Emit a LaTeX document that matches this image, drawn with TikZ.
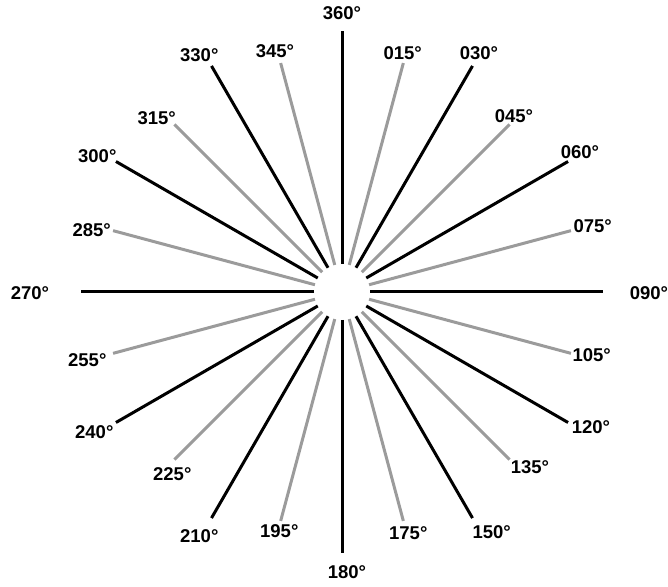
\documentclass[tikz,border=0pt]{standalone}
\usepackage{fontspec}
\setmainfont{Liberation Sans}
\definecolor{raygray}{RGB}{155,155,155}
\tikzset{
  majorray/.style={draw=black,line width=3pt},
  minorray/.style={draw=raygray,line width=3pt},
  deglabel/.style={inner sep=0pt,font=\fontsize{18.5}{21}\selectfont\bfseries,anchor=center}
}
\begin{document}
\begin{tikzpicture}[x=1pt,y=1pt]
\useasboundingbox (0,0) rectangle (668,586);
\coordinate (C) at (342,294);
% black rays every 30 degrees
\foreach \a in {0,30,...,330}{
  \draw[majorray] ([shift={(C)}]{90-\a}:28) -- ([shift={(C)}]{90-\a}:261);
}
% grey rays in between
\foreach \a in {15,45,...,345}{
  \draw[minorray] ([shift={(C)}]{90-\a}:28) -- ([shift={(C)}]{90-\a}:237);
}
% labels
\node[deglabel] (l360) at (342,572.5) {360°};
\node[deglabel] (l015) at (402.7,533.3) {015°};
\node[deglabel] (l030) at (479,533.3) {030°};
\node[deglabel] (l045) at (514,470) {045°};
\node[deglabel] (l060) at (580,434.3) {060°};
\node[deglabel] (l075) at (592.7,360) {075°};
\node[deglabel] (l090) at (649,293) {090°};
\node[deglabel] (l105) at (591.7,231) {105°};
\node[deglabel] (l120) at (591,158.7) {120°};
\node[deglabel] (l135) at (530,119.3) {135°};
\node[deglabel] (l150) at (491.7,54.3) {150°};
\node[deglabel] (l175) at (408.3,52.7) {175°};
\node[deglabel] (l180) at (347,14) {180°};
\node[deglabel] (l195) at (279.3,55.3) {195°};
\node[deglabel] (l210) at (199.3,50.3) {210°};
\node[deglabel] (l225) at (172.3,112) {225°};
\node[deglabel] (l240) at (94.3,153.7) {240°};
\node[deglabel] (l255) at (87.3,226) {255°};
\node[deglabel] (l270) at (30,293) {270°};
\node[deglabel] (l285) at (91.7,356) {285°};
\node[deglabel] (l300) at (97.3,430) {300°};
\node[deglabel] (l315) at (156.7,467.7) {315°};
\node[deglabel] (l330) at (199.3,531) {330°};
\node[deglabel] (l345) at (275,535.3) {345°};
\end{tikzpicture}
\end{document}
